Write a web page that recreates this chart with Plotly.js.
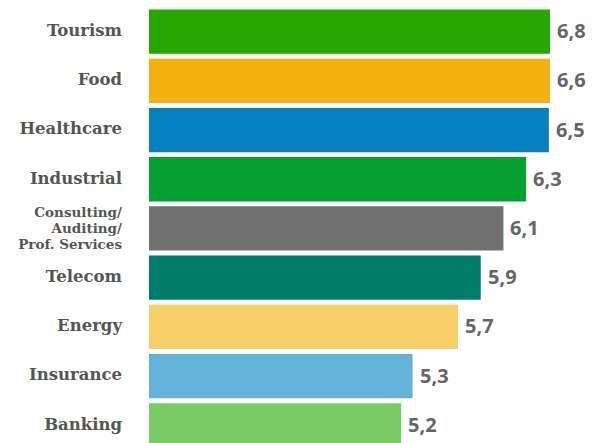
<!DOCTYPE html>
<html><head><meta charset="utf-8">
<script src="https://cdn.plot.ly/plotly-3.0.1.min.js"></script>
<style>html,body{margin:0;padding:0;overflow:hidden;background:#fff}</style>
</head><body><div id="chart" style="width:598px;height:443px"></div>
<script>
const categories = ["Tourism","Food","Healthcare","Industrial","Consulting/<br>Auditing/<br>Prof. Services","Telecom","Energy","Insurance","Banking"];
const values = [6.8,6.6,6.5,6.3,6.1,5.9,5.7,5.3,5.2];
const colors = ["#26a800","#f4b00e","#0680bf","#04a030","#717171","#007c6c","#f8d06a","#64b3d9","#78cc66"];
const xRange = [2.98, 6.51];

const tickText = categories.map(c => c.includes("<br>")
  ? '<span style="font-size:13.5px">' + c + '</span>'
  : '<span style="font-size:16.5px">' + c + '</span>');

const trace = {
  type: "bar", orientation: "h",
  x: values, y: categories.map((c,i)=>i),
  marker: {color: colors, line: {width: 0}},
  hoverinfo: "skip"
};

const annotations = values.map((v,i)=>({
  x: Math.min(v, xRange[1]), y: i, xref: "x", yref: "y",
  text: v.toFixed(1).replace(".", ","), showarrow: false,
  xanchor: "left", yanchor: "middle", xshift: 5, yshift: 1,
  font: {family: "Open Sans", size: 20, color: "#666666", weight: 700}
}));

const layout = {
  width: 598, height: 443,
  margin: {l: 149, r: 48, t: 7, b: 0},
  bargap: 0.1,
  showlegend: false,
  paper_bgcolor: "#fff", plot_bgcolor: "#fff",
  xaxis: {range: xRange, showgrid: false, zeroline: false, showticklabels: false, showline: false, fixedrange: true},
  yaxis: {
    range: [8.36, -0.5], tickmode: "array", tickvals: categories.map((c,i)=>i), ticktext: tickText,
    showgrid: false, zeroline: false, showline: false, ticks: "", ticklabelstandoff: 26,
    tickfont: {family: "DejaVu Serif", size: 12.5, color: "#555555", weight: 700}
  },
  annotations: annotations
};

Plotly.newPlot("chart", [trace], layout, {displayModeBar: false, staticPlot: true});
</script></body></html>
